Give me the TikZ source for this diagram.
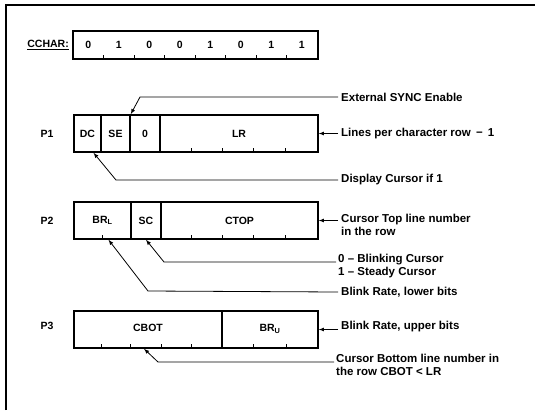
\documentclass[tikz,border=0pt]{standalone}
\usepackage{fontspec}
\setmainfont{Liberation Sans}
\begin{document}
\begin{tikzpicture}[x=1pt,y=-1pt,
    field/.style={draw,line width=1.5pt,inner sep=0pt,minimum height=37pt,
      font=\bfseries\fontsize{10.5}{12}\selectfont},
    reg/.style={inner sep=0pt,font=\bfseries\fontsize{10.5}{12}\selectfont},
    note/.style={inner sep=0pt,align=left,
      font=\bfseries\fontsize{11.5}{13}\selectfont},
    ptr/.style={-latex,line width=0.8pt},
    tick/.style={line width=1pt}
  ]
    \useasboundingbox (0,0) rectangle (535,410);
    \draw[line width=2pt] (6,410) -- (6,5) -- (535,5);

    % CCHAR
    \node[reg,anchor=east] (cname) at (69,45) {\underline{CCHAR:}};
    \node[draw,line width=1.5pt,inner sep=0pt,minimum width=245pt,minimum height=28pt] (cchar) at (195.5,45) {};
    \foreach \b [count=\i] in {0,1,0,0,1,0,1,1}
      \node[reg] (bit\i) at ({73+30.5*\i-15.25},45) {\b};
    \foreach \t in {1,...,7}
      \draw[tick] ({73+30.5*\t},59) -- ({73+30.5*\t},55);

    % P1
    \node[reg] (p1) at (47,133.5) {P1};
    \node[field,minimum width=27pt] (dc) at (87.5,133.5) {DC};
    \node[field,minimum width=29pt] (se) at (115.5,133.5) {SE};
    \node[field,minimum width=30pt] (zero) at (145,133.5) {0};
    \node[field,minimum width=158pt] (lr) at (239,133.5) {LR};
    \foreach \t in {191,222,253,285}
      \draw[tick] (\t,152) -- (\t,148);

    % P2
    \node[reg] (p2) at (47,220.5) {P2};
    \node[field,minimum width=57pt] (brl) at (102.5,220.5) {BR\textsubscript{L}};
    \node[field,minimum width=30pt] (sc) at (146,220.5) {SC};
    \node[field,minimum width=157pt] (ctop) at (239.5,220.5) {CTOP};
    \foreach \t in {102,191,222,253,285}
      \draw[tick] (\t,239) -- (\t,235);

    % P3
    \node[reg] (p3) at (47,326) {P3};
    \node[field,minimum width=148pt] (cbot) at (148,329.5) {\raisebox{3.5pt}{CBOT}};
    \node[field,minimum width=96pt] (bru) at (270,329.5) {\raisebox{3.5pt}{BR\textsubscript{U}}};
    \foreach \t in {101,130,161,191,253,286}
      \draw[tick] (\t,348) -- (\t,344);

    % notes
    \node[note,anchor=west] (lsync) at (341,97) {External SYNC Enable};
    \node[note,anchor=west] (llines) at (341,133.5) {Lines per character row \,−\, 1};
    \node[note,anchor=west] (ldisp) at (341,180) {Display Cursor if 1};
    \node[note,anchor=north west] (ltop) at (341,214) {Cursor Top line number\\in the row};
    \node[note,anchor=north west] (lblink) at (338,254) {0 – Blinking Cursor\\1 – Steady Cursor};
    \node[note,anchor=west] (lbrl) at (341,292) {Blink Rate, lower bits};
    \node[note,anchor=west] (lbru) at (341,327) {Blink Rate, upper bits};
    \node[note,anchor=north west] (lcbot) at (336,354) {Cursor Bottom line number in\\the row CBOT < LR};

    \coordinate (ksync) at (140,97);
    \coordinate (kdisp) at (116,180);
    \coordinate (kblink) at (164,262);
    \coordinate (kbrl) at (148,291);
    \coordinate (kcbot) at (158,362);

    \draw[ptr] ([xshift=-3pt]lsync.west) -- (ksync) -- (se.north east);
    \draw[ptr] ([xshift=-3pt]llines.west) -- (lr.east);
    \draw[ptr] ([xshift=-3pt]ldisp.west) -- (kdisp) -- ([xshift=6pt]dc.south);
    \draw[ptr] ([xshift=-3pt]ltop.west |- ctop.east) -- (ctop.east);
    \draw[ptr] ([xshift=-2pt]lblink.west |- kblink) -- (kblink) -- (sc.south);
    \draw[ptr] ([xshift=-3pt]lbrl.west) -- (kbrl) -- ([xshift=6pt]brl.south);
    \draw[ptr] ([xshift=-3pt]lbru.west |- bru.east) -- (bru.east);
    \draw[ptr] ([xshift=-2pt]lcbot.west |- kcbot) -- (kcbot) -- ([xshift=-4pt]cbot.south);
  \end{tikzpicture}
\end{document}
